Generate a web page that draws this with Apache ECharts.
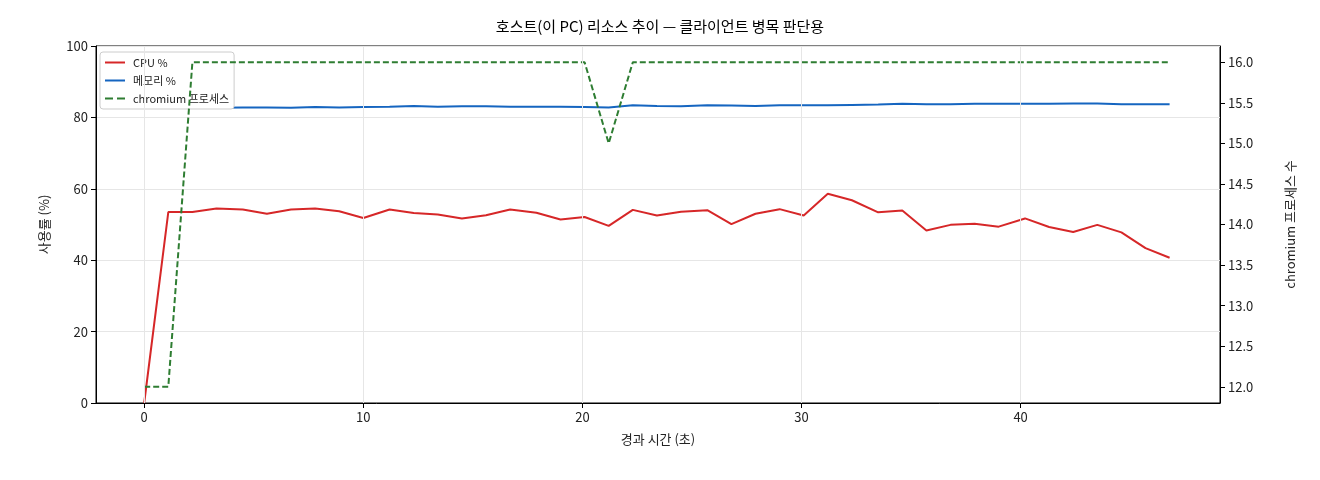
<!DOCTYPE html><html><head><meta charset="utf-8"><script src="https://cdn.jsdelivr.net/npm/echarts@6/dist/echarts.min.js"></script></head><body style="margin:0"><div id="c" style="width:1320px;height:480px"></div><script>
const times=[0,1.1,2.2,3.3,4.5,5.6,6.7,7.8,8.9,10.0,11.2,12.3,13.4,14.5,15.6,16.7,17.9,19.0,20.1,21.2,22.3,23.4,24.5,25.7,26.8,27.9,29.0,30.1,31.2,32.3,33.5,34.6,35.7,36.8,37.9,39.0,40.2,41.3,42.4,43.5,44.6,45.7,46.8];
const cpu=[0,53.5,53.5,54.5,54.2,53,54.2,54.5,53.7,51.8,54.2,53.2,52.8,51.7,52.6,54.2,53.3,51.4,52.1,49.6,54.1,52.5,53.6,54,50.1,53,54.3,52.5,58.6,56.8,53.4,53.9,48.3,49.9,50.2,49.4,51.7,49.3,47.9,49.9,47.8,43.4,40.7];
const mem=[82.6,82.6,82.7,82.7,82.8,82.8,82.7,82.9,82.8,82.9,83.0,83.2,83.0,83.1,83.1,83.0,83.0,83.0,82.9,82.8,83.4,83.2,83.1,83.4,83.3,83.2,83.4,83.4,83.4,83.5,83.6,83.8,83.7,83.7,83.8,83.8,83.8,83.8,83.9,83.9,83.7,83.7,83.7];
const proc=[12,12,16,16,16,16,16,16,16,16,16,16,16,16,16,16,16,16,16,15,16,16,16,16,16,16,16,16,16,16,16,16,16,16,16,16,16,16,16,16,16,16,16];
const xTicks=[0,10,20,30,40];
const rTicks=[12,12.5,13,13.5,14,14.5,15,15.5,16];
const F='"Noto Sans CJK KR", "DejaVu Sans", sans-serif';
const z=a=>times.map((t,i)=>[t,a[i]]);
const ax={axisLine:{show:true,onZero:false,lineStyle:{color:'#000'}},axisTick:{show:true,inside:false,lineStyle:{color:'#000'}},axisLabel:{color:'#222',fontSize:13,fontFamily:F},splitLine:{show:true,lineStyle:{color:'#e6e6e6'}},nameTextStyle:{color:'#222',fontSize:13,fontFamily:F}};
const ln='path://M0,0h10v1h-10z', dl='path://M0,0h4v1h-4zM6,0h4v1h-4z';
const xGrid={type:'value',min:-2.2,max:49.1,show:false,splitLine:{show:false}};
echarts.init(document.getElementById('c')).setOption({
animation:false,
title:{text:'호스트(이 PC) 리소스 추이 — 클라이언트 병목 판단용',left:'center',top:14,textStyle:{fontSize:15,fontWeight:'normal',color:'#000',fontFamily:F}},
grid:{left:96,right:100,top:46,bottom:77,show:true,borderColor:'#000',borderWidth:1},
legend:{left:100,top:52,orient:'vertical',itemGap:7,itemWidth:26,itemHeight:2,backgroundColor:'#fff',borderColor:'#ccc',borderWidth:1,borderRadius:3,padding:[5,5],textStyle:{fontSize:11,fontFamily:F,color:'#222'},data:[{name:'CPU %',icon:ln},{name:'메모리 %',icon:ln},{name:'chromium 프로세스',icon:dl}]},
xAxis:Object.assign({},ax,{type:'value',min:-2.2,max:49.1,name:'경과 시간 (초)',nameLocation:'middle',nameGap:30,
 axisLabel:Object.assign({},ax.axisLabel,{customValues:xTicks}),axisTick:Object.assign({},ax.axisTick,{customValues:xTicks}),splitLine:{show:false}}),
yAxis:[Object.assign({},ax,{type:'value',min:0,max:100,interval:20,name:'사용률 (%)',nameLocation:'middle',nameGap:45}),
Object.assign({},ax,{type:'value',min:11.8,max:16.2,position:'right',splitLine:{show:false},name:'chromium 프로세스 수',nameLocation:'middle',nameGap:64,nameRotate:90,
 axisLabel:Object.assign({},ax.axisLabel,{customValues:rTicks,formatter:v=>v.toFixed(1)}),axisTick:Object.assign({},ax.axisTick,{customValues:rTicks})})],
series:[
{name:'CPU %',type:'line',data:z(cpu),showSymbol:false,lineStyle:{color:'#d62728',width:2},itemStyle:{color:'#d62728'},z:3,
 markLine:{silent:true,symbol:'none',label:{show:false},lineStyle:{color:'#e6e6e6',width:1,type:'solid'},data:xTicks.map(v=>({xAxis:v}))}},
{name:'메모리 %',type:'line',data:z(mem),showSymbol:false,lineStyle:{color:'#1565c0',width:2},itemStyle:{color:'#1565c0'},z:3},
{name:'chromium 프로세스',type:'line',yAxisIndex:1,data:z(proc),showSymbol:false,lineStyle:{color:'#2e7d32',width:2,type:[6,3]},itemStyle:{color:'#2e7d32'},z:4}
]});
</script></body></html>
